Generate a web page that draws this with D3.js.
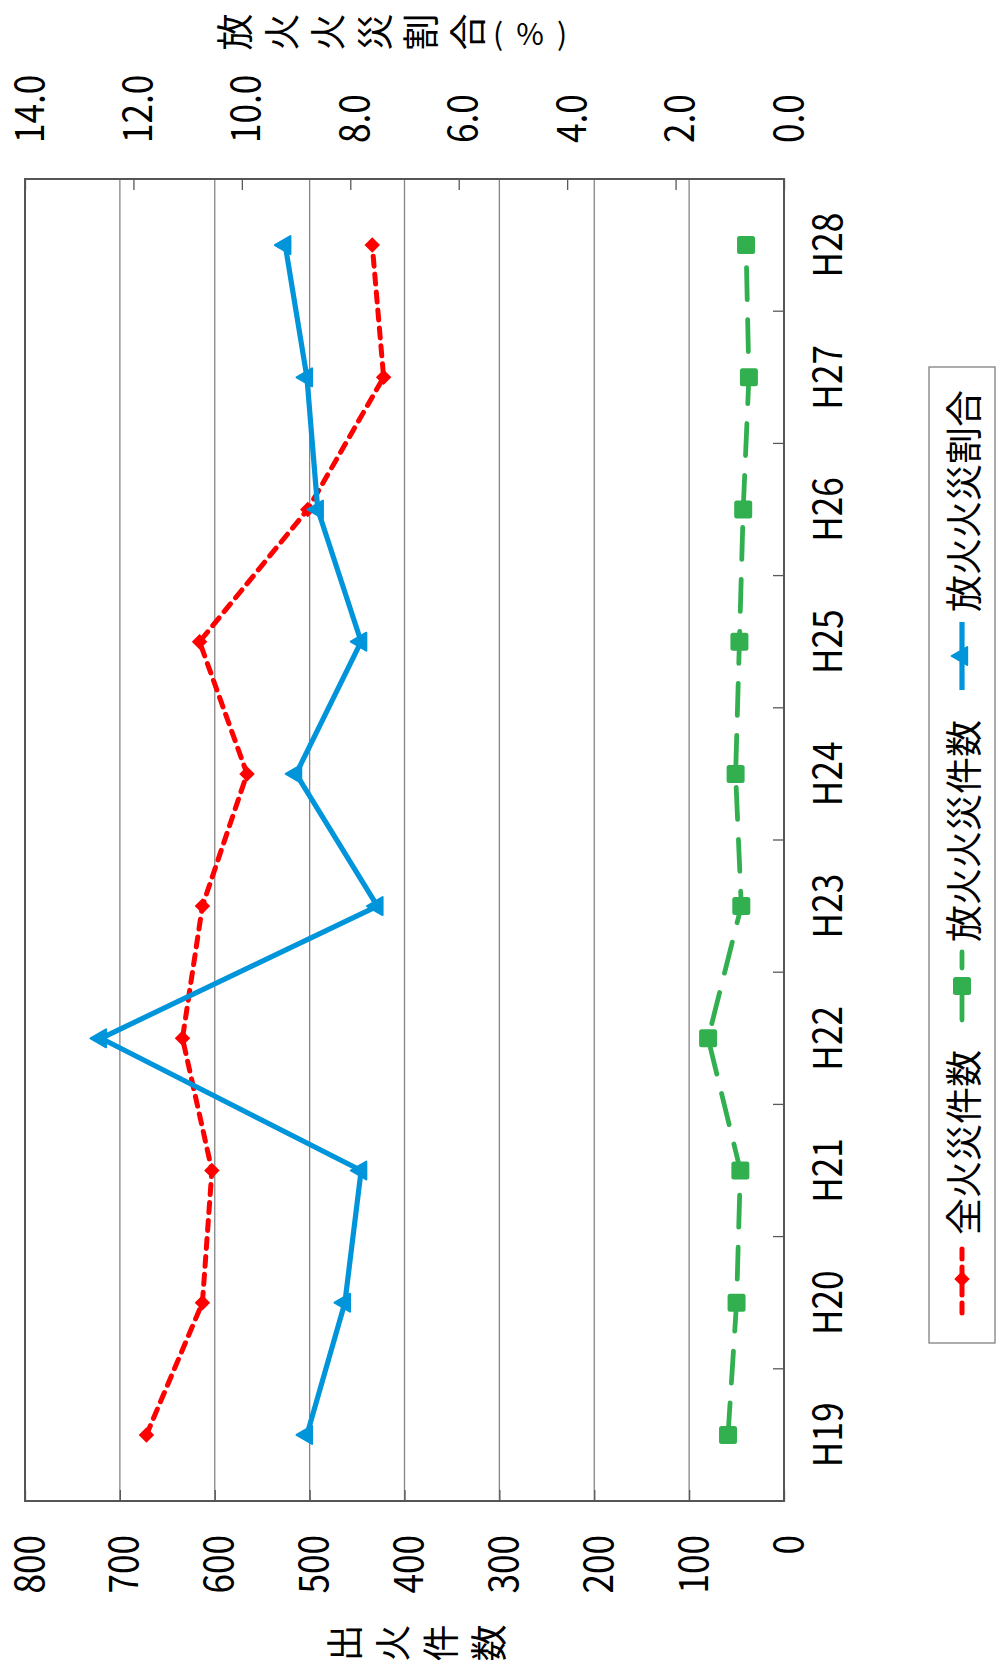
<!DOCTYPE html>
<meta charset="utf-8">
<style>
  body {
    background-color: white;
    padding: 0;
    margin: 0;
  }
  svg {
    display: block;
    background-color: white;
    font-family: "Noto Sans CJK JP", "Noto Sans", sans-serif;
  }
</style>
<script src="https://cdnjs.cloudflare.com/ajax/libs/d3/7.8.5/d3.min.js"></script>
<svg id="vis"></svg>
<script>

var width = 996, height = 1668;

// data
const years = ["H19", "H20", "H21", "H22", "H23", "H24", "H25", "H26", "H27", "H28"];
const totalFires = [672, 613, 603, 634, 613, 566, 616, 502, 422, 434];
const arsonFires = [59, 50, 46, 80, 45, 51, 47, 43, 37, 40];
const arsonRatio = [8.8, 8.1, 7.8, 12.6, 7.5, 9.0, 7.8, 8.6, 8.8, 9.2];
const countTicks = [0, 100, 200, 300, 400, 500, 600, 700, 800];
const ratioTicks = [0, 2, 4, 6, 8, 10, 12, 14];
const seriesNames = ["全火災件数", "放火火災件数", "放火火災割合"];
const countTitle = ["出", "火", "件", "数"];
const ratioTitle = ["放", "火", "火", "災", "割", "合", "(", "%", ")"];

var svg = d3.select("svg")
  .attr("width", width)
  .attr("height", height);

// the chart is drawn landscape and turned a quarter left
var g = svg.append("g")
  .attr("transform", "translate(0," + height + ") rotate(-90)");

var pLeft = 167, pRight = 1489, pTop = 25, pBottom = 784;

var x = d3.scaleBand().domain(years).range([pLeft, pRight]);
var cx = d => x(d) + x.bandwidth() / 2;
var yCount = d3.scaleLinear().domain([0, 800]).range([pBottom, pTop]);
var yRatio = d3.scaleLinear().domain([0, 14]).range([pBottom, pTop]);

// gridlines
g.append("g")
  .selectAll("line")
  .data(countTicks.slice(1, -1))
  .enter()
  .append("line")
    .attr("x1", pLeft).attr("x2", pRight)
    .attr("y1", d => yCount(d)).attr("y2", d => yCount(d))
    .attr("stroke", "#858585")
    .attr("stroke-width", 1.3);

// axes
var axL = g.append("g")
  .attr("transform", "translate(" + pLeft + ",0)")
  .call(d3.axisLeft(yCount).tickValues(countTicks).tickSizeInner(-11).tickSizeOuter(0).tickPadding(34));

var axR = g.append("g")
  .attr("transform", "translate(" + pRight + ",0)")
  .call(d3.axisRight(yRatio).tickValues(ratioTicks).tickFormat(d3.format(".1f"))
    .tickSizeInner(-11).tickSizeOuter(0).tickPadding(36));

var axB = g.append("g")
  .attr("transform", "translate(0," + pBottom + ")")
  .call(d3.axisBottom(x).tickSize(0).tickPadding(30));

// category boundary ticks
g.append("g")
  .selectAll("line")
  .data(years.slice(1))
  .enter()
  .append("line")
    .attr("x1", d => x(d)).attr("x2", d => x(d))
    .attr("y1", pBottom - 11).attr("y2", pBottom)
    .attr("stroke", "#595959")
    .attr("stroke-width", 1.3);

[axL, axR, axB].forEach(function(ax) {
  ax.select(".domain").remove();
  ax.selectAll(".tick line").attr("stroke", "#595959").attr("stroke-width", 1.3);
  ax.selectAll("text")
    .attr("fill", "#000")
    .style("font-family", "'Noto Sans CJK JP', sans-serif")
    .style("font-size", "40px")
    .each(function() {
      var len = this.getComputedTextLength();
      d3.select(this).attr("textLength", len * 0.88).attr("lengthAdjust", "spacingAndGlyphs");
    });
});
axL.selectAll("text").attr("dy", "0.45em");
axR.selectAll("text").attr("dy", "0.45em");

// plot border
g.append("rect")
  .attr("x", pLeft).attr("y", pTop)
  .attr("width", pRight - pLeft).attr("height", pBottom - pTop)
  .attr("fill", "none")
  .attr("stroke", "#555")
  .attr("stroke-width", 2);

// series
var red = "#ff0000", green = "#32b050", blue = "#0095da";

function drawLine(vals, scale, color, dash, sw) {
  g.append("path")
    .datum(vals)
    .attr("fill", "none")
    .attr("stroke", color)
    .attr("stroke-width", sw)
    .attr("stroke-dasharray", dash)
    .attr("stroke-linecap", dash ? "round" : "butt")
    .attr("stroke-linejoin", "round")
    .attr("d", d3.line().x((d, i) => cx(years[i])).y(d => scale(d)));
}

drawLine(arsonFires, yCount, green, "32,20", 4.8);
drawLine(totalFires, yCount, red, "10,8", 5);
drawLine(arsonRatio, yRatio, blue, null, 5.2);

function diamond(sel) {
  sel.attr("d", d3.symbol().type(d3.symbolSquare).size(120)).attr("fill", red);
}
function triangle(sel) {
  sel.attr("d", d3.symbol().type(d3.symbolTriangle).size(140)).attr("fill", blue)
    .attr("stroke", blue).attr("stroke-width", 2).attr("stroke-linejoin", "round");
}
function square(sel) {
  sel.attr("x", -9).attr("y", -9).attr("width", 18).attr("height", 18)
    .attr("rx", 2.5).attr("fill", green);
}

g.append("g").selectAll("rect")
  .data(arsonFires).enter().append("rect")
    .attr("transform", (d, i) => "translate(" + cx(years[i]) + "," + yCount(d) + ")")
    .call(square);

g.append("g").selectAll("path")
  .data(totalFires).enter().append("path")
    .attr("transform", (d, i) => "translate(" + cx(years[i]) + "," + yCount(d) + ") rotate(45)")
    .call(diamond);

g.append("g").selectAll("path")
  .data(arsonRatio).enter().append("path")
    .attr("transform", (d, i) => "translate(" + cx(years[i]) + "," + yRatio(d) + ")")
    .call(triangle);

// axis titles, stacked upright characters
function stackTitle(chars, xPos, y0, step, halfStep) {
  var y = y0;
  chars.forEach(function(c, i) {
    var half = /[()%]/.test(c);
    if (i > 0) y += (half || /[()%]/.test(chars[i - 1])) ? halfStep : step;
    g.append("text")
      .attr("transform", "translate(" + xPos + "," + y + ")" + (half ? " rotate(90)" : ""))
      .attr("text-anchor", "middle")
      .attr("dominant-baseline", "central")
      .style("font-size", half ? "30px" : "37px")
      .text(c);
  });
}
stackTitle(countTitle, 25, 343, 48, 30);
stackTitle(ratioTitle, 1636, 233, 46.6, 32);

// legend
var lg = g.append("g");
lg.append("rect")
  .attr("x", 325).attr("y", 929)
  .attr("width", 976).attr("height", 66)
  .attr("fill", "white")
  .attr("stroke", "#808080")
  .attr("stroke-width", 1.3);

var styles = [
  {color: red, dash: "10,8", sw: 5, mark: "diamond"},
  {color: green, dash: "32,20", sw: 4.8, mark: "square"},
  {color: blue, dash: null, sw: 5.2, mark: "triangle"}
];
var lx = 355, ly = 962;
seriesNames.forEach(function(name, i) {
  var s = styles[i];
  lg.append("line")
    .attr("x1", lx).attr("x2", lx + 68)
    .attr("y1", ly).attr("y2", ly)
    .attr("stroke", s.color)
    .attr("stroke-width", s.sw)
    .attr("stroke-dasharray", s.dash)
    .attr("stroke-linecap", s.dash ? "round" : "butt");
  if (s.mark == "square") {
    lg.append("rect").attr("transform", "translate(" + (lx + 34) + "," + ly + ")").call(square);
  } else if (s.mark == "diamond") {
    lg.append("path").attr("transform", "translate(" + (lx + 34) + "," + ly + ") rotate(45)").call(diamond);
  } else {
    lg.append("path").attr("transform", "translate(" + (lx + 34) + "," + ly + ")").call(triangle);
  }
  var t = lg.append("text")
    .attr("x", lx + 78).attr("y", ly)
    .attr("dominant-baseline", "central")
    .style("font-size", "37px")
    .text(name);
  lx = lx + 78 + t.node().getComputedTextLength() + 30;
});

</script>
